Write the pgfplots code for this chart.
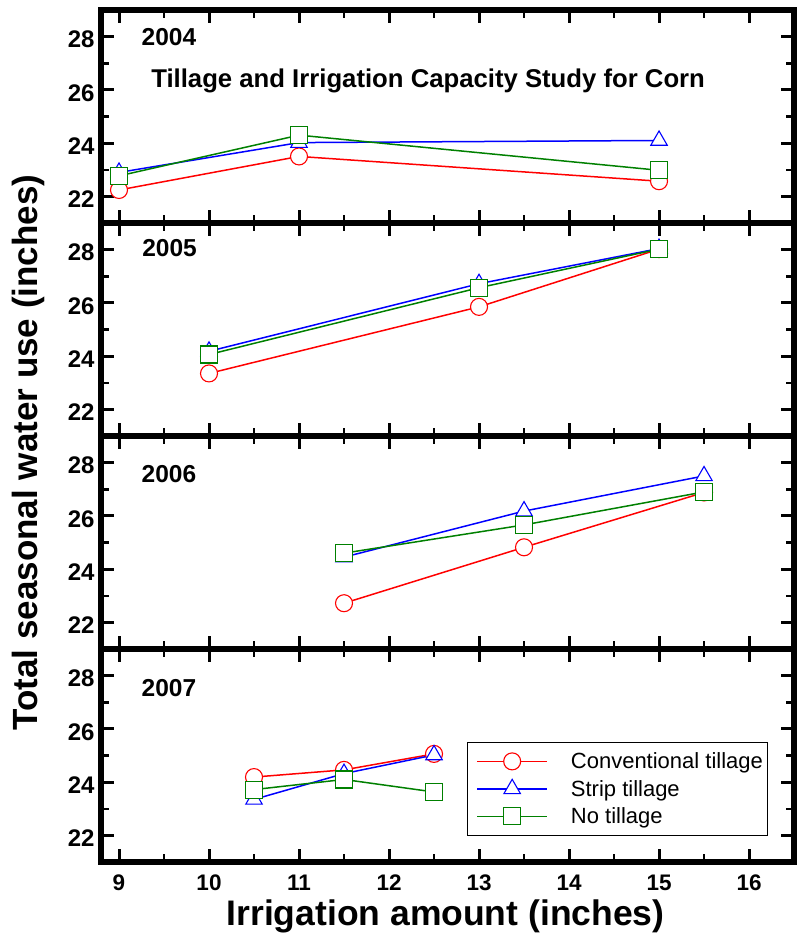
\documentclass[border=0pt]{standalone}
\usepackage{fontspec}
\setmainfont{Liberation Sans}
\usepackage{pgfplots}
\pgfplotsset{compat=1.18}
\usepgfplotslibrary{groupplots}
\usetikzlibrary{calc}

\definecolor{cvred}{RGB}{255,0,0}
\definecolor{stblue}{RGB}{0,0,255}
\definecolor{ntgreen}{RGB}{0,128,0}

\tikzset{yearlab/.style={font=\bfseries\fontsize{24.5}{24.5}\selectfont}}

\pgfplotsset{
  panel/.style={
    width=693pt, height=213pt, scale only axis,
    xmin=8.8, xmax=16.5, ymin=21, ymax=29,
    xtick={9,...,16}, minor x tick num=1,
    ytick={22,24,26,28}, minor y tick num=1,
    tick pos=both, tick align=inside,
    major tick length=13pt, minor tick length=8pt,
    every major tick/.style={line width=3pt, black},
    every minor tick/.style={line width=2.5pt, black},
    axis line style={line width=6pt},
    /pgf/number format/assume math mode=true,
    xticklabel style={font=\bfseries\fontsize{22.5}{22.5}\selectfont},
    yticklabel style={font=\bfseries\fontsize{24}{24}\selectfont, yshift=-3pt},
    xticklabel shift=9pt,
    yticklabel shift=3pt,
  },
  cvt/.style={cvred, line width=1.5pt, mark=*, mark size=8.5pt,
    mark options={fill=white, draw=cvred, line width=1.1pt}},
  strip/.style={stblue, line width=1.5pt, mark=triangle*, mark size=9.5pt,
    mark options={fill=white, draw=stblue, line width=1.1pt}},
  notill/.style={ntgreen, line width=1.5pt, mark=square*, mark size=8.5pt,
    mark options={fill=white, draw=ntgreen, line width=1.1pt}},
}

\begin{document}
\begin{tikzpicture}
\begin{groupplot}[
    group style={group size=1 by 4, vertical sep=0pt, xticklabels at=edge bottom},
    panel,
  ]
  % 2004
  \nextgroupplot
  \addplot[cvt] coordinates {(9,22.24) (11,23.50) (15,22.57)};
  \addplot[strip] coordinates {(9,22.90) (11,24.02) (15,24.10)};
  \addplot[notill] coordinates {(9,22.77) (11,24.30) (15,22.98)};
  \node[yearlab] at (rel axis cs:0.098,0.873) {2004};
  \node[font=\bfseries\fontsize{25.7}{25.7}\selectfont, anchor=base]
    at (rel axis cs:0.472,0.6385) {Tillage and Irrigation Capacity Study for Corn};

  % 2005
  \nextgroupplot
  \addplot[cvt] coordinates {(10,23.35) (13,25.85) (15,28.02)};
  \addplot[strip] coordinates {(10,24.18) (13,26.72) (15,28.04)};
  \addplot[notill] coordinates {(10,24.06) (13,26.57) (15,28.02)};
  \node[yearlab] at (rel axis cs:0.099,0.88) {2005};

  % 2006
  \nextgroupplot
  \addplot[cvt] coordinates {(11.5,22.72) (13.5,24.82) (15.5,26.88)};
  \addplot[strip] coordinates {(11.5,24.45) (13.5,26.18) (15.5,27.50)};
  \addplot[notill] coordinates {(11.5,24.60) (13.5,25.66) (15.5,26.90)};
  \node[yearlab] at (rel axis cs:0.098,0.822) {2006};

  % 2007
  \nextgroupplot[
    legend style={at={(0.528,0.565)}, anchor=north west, draw=black,
      line width=1pt, inner xsep=4pt, inner ysep=5.5pt,
      font=\fontsize{22}{22}\selectfont,
      nodes={inner xsep=1pt, inner ysep=5pt}, column sep=22pt},
    legend cell align=left,
    legend image code/.code={
      \path (0pt,0pt);
      \draw[mark repeat=2, mark phase=2] plot coordinates {(5pt,0pt) (40pt,0pt) (75pt,0pt)};
    },
  ]
  \addplot[cvt] coordinates {(10.5,24.19) (11.5,24.46) (12.5,25.06)};
  \addplot[strip] coordinates {(10.5,23.35) (11.5,24.32) (12.5,25.02)};
  \addplot[notill] coordinates {(10.5,23.72) (11.5,24.10) (12.5,23.63)};
  \node[yearlab] at (rel axis cs:0.098,0.817) {2007};
  \legend{Conventional tillage, Strip tillage, No tillage}
\end{groupplot}

\node[font=\bfseries\fontsize{35.5}{35.5}\selectfont, anchor=base]
  at ($(group c1r4.south)+(-2pt,-63pt)$) {Irrigation amount (inches)};
\node[font=\bfseries\fontsize{35}{35}\selectfont, anchor=base, rotate=90]
  at ($(group c1r2.south west)+(-64pt,-16.5pt)$) {Total seasonal water use (inches)};

\path ($(group c1r1.north west)+(-101pt,10pt)$) rectangle ($(group c1r4.south east)+(4pt,-77pt)$);
\end{tikzpicture}
\end{document}
